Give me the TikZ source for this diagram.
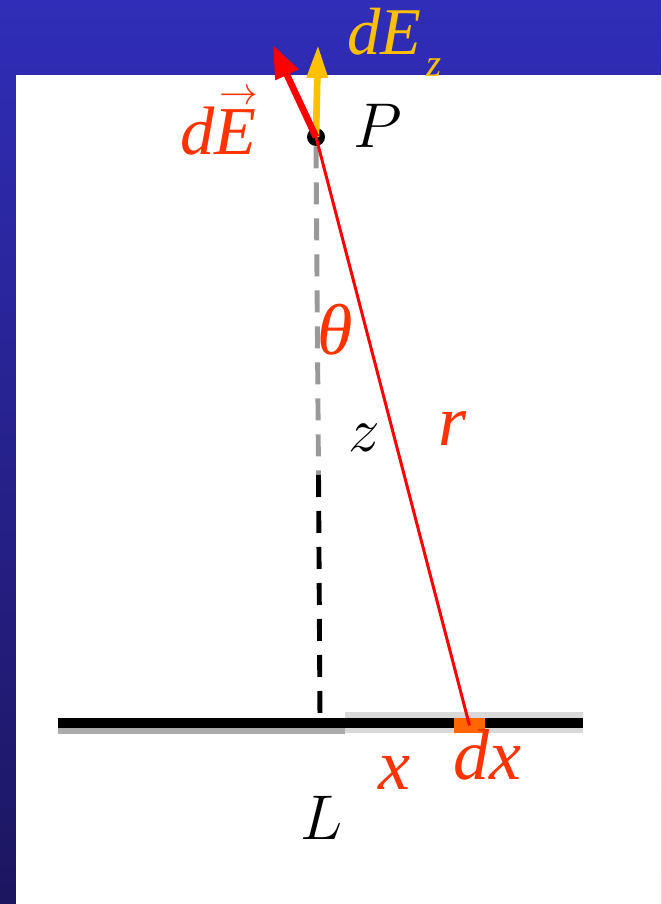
\RequirePackage{fix-cm}
\documentclass[tikz,border=0pt]{standalone}
\usepackage{fontspec}
\setmainfont{Liberation Serif}
\usetikzlibrary{arrows.meta}
\definecolor{labred}{RGB}{255,51,0}
\definecolor{vecgold}{RGB}{255,192,0}
\definecolor{barorange}{RGB}{255,102,0}
\definecolor{bgtop}{RGB}{48,45,184}
\definecolor{bgbot}{RGB}{28,22,96}
\newcommand{\arrowacc}[1]{\makebox[0pt][l]{\kern3pt\raisebox{29pt}{\fontsize{22}{22}\selectfont$\rightarrow$}}#1}
\begin{document}
\begin{tikzpicture}[line cap=butt,
    lab/.style={inner sep=0pt, anchor=base west, text=labred,
      font=\fontsize{41}{41}\selectfont\itshape},
    sym/.style={inner sep=0pt, anchor=base west,
      font=\fontsize{36}{36}\selectfont},
    axis/.style={line width=2.8pt, dash pattern=on 0.44cm off 0.28cm},
    vec/.style={line width=3.8pt}]
  \shade[top color=bgtop, bottom color=bgbot] (0,0) rectangle (13.22,18.08);
  \fill[white] (0.32,0) rectangle (13.22,16.58);
  \useasboundingbox (0,0) rectangle (13.22,18.08);
  % line charge
  \fill[black!33] (1.16,3.54) rectangle (6.90,3.40);
  \fill[black!15] (6.90,3.84) rectangle (11.66,3.42);
  \coordinate (Lw) at (1.16,3.62);
  \coordinate (Le) at (11.66,3.62);
  \draw[line width=0.2cm] (Lw) -- (Le);
  \node[fill=barorange, inner sep=0pt, minimum width=0.62cm,
    minimum height=0.30cm] (dx) at (9.39,3.57) {};
  % field point
  \node[circle, fill=black, inner sep=0pt, minimum size=0.36cm] (P) at (6.32,15.34) {};
  \coordinate (mid) at (6.37,8.58);
  \coordinate (foot) at (6.40,3.72);
  \draw[axis, black!40] (P.south) -- (mid);
  \draw[axis, black] (mid) -- (foot);
  \draw[red, line width=1.7pt] (P.center) -- (dx.center);
  \coordinate (Ez) at (6.36,17.18);
  \coordinate (Et) at (5.46,17.18);
  \draw[vec, vecgold, -{Triangle[length=0.66cm, width=0.40cm]}] (P.center) -- (Ez);
  \draw[vec, red, -{Triangle[length=0.66cm, width=0.48cm]}] (P.center) -- (Et);
  % labels
  \node[lab, text=vecgold, font=\fontsize{38}{38}\selectfont\itshape] (lEz)
    at (6.94,16.98) {dE\kern3pt\raisebox{-12pt}{\fontsize{22}{22}\selectfont z}};
  \node[lab, font=\fontsize{39}{39}\selectfont\itshape] (lE) at (3.60,14.98) {d\arrowacc{E}};
  \node[sym] (lP) at (7.06,15.12) {$P$};
  \node[lab, anchor=center] (lth) at (6.70,11.48) {θ};
  \node[sym] (lz) at (6.96,9.04) {$z$};
  \node[lab] (lr) at (8.76,9.16) {r};
  \node[lab] (lx) at (7.56,2.28) {x};
  \node[lab] (ldx) at (9.06,2.48) {dx};
  \node[sym] (lL) at (6.00,1.28) {$L$};
\end{tikzpicture}
\end{document}
